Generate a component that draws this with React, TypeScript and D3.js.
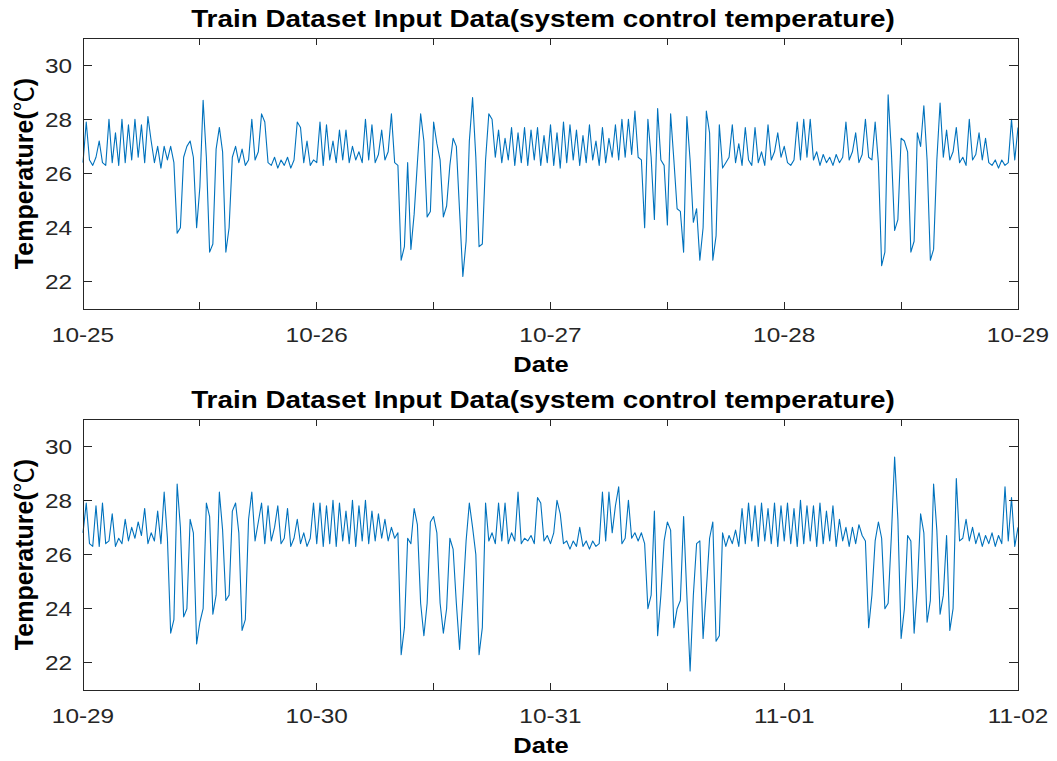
import React from "react";
import * as d3 from "d3";

// ---------- data ----------
const chartTitle = "Train Dataset Input Data(system control temperature)";
const yAxisLabelMain = "Temperature(";
const yAxisUnit = "\u2103";
const yAxisLabelEnd = ")";
const xAxisLabel = "Date";
const yTickValues = [22, 24, 26, 28, 30];
const yDomain = [21, 31];
const sampleMinutes = 20;

const panelStarts = [new Date(2019, 9, 25), new Date(2019, 9, 29)];
const panelEnds = [new Date(2019, 9, 29), new Date(2019, 10, 2)];

// system control temperature, 20-minute samples, 10-25 00:00 -> 10-29 00:00
const tempA = [
  26.4, 27.9, 26.5, 26.3, 26.6, 27.2, 26.4, 26.3, 28.0, 26.4,
  27.5, 26.3, 28.0, 26.4, 27.8, 26.5, 28.0, 26.6, 27.8, 26.4,
  28.1, 27.2, 26.4, 27.0, 26.2, 27.0, 26.5, 27.0, 26.4, 23.8,
  24.0, 26.6, 27.0, 27.2, 26.6, 24.0, 25.5, 28.7, 26.6, 23.1,
  23.4, 26.9, 27.7, 26.8, 23.1, 24.0, 26.6, 27.0, 26.4, 26.9,
  26.3, 26.5, 28.0, 26.5, 26.8, 28.2, 27.9, 26.4, 26.3, 26.6,
  26.2, 26.5, 26.3, 26.6, 26.2, 26.5, 27.9, 27.7, 26.4, 27.2,
  26.3, 26.5, 26.4, 27.9, 26.3, 27.8, 26.5, 27.2, 26.4, 27.6,
  26.5, 27.6, 26.4, 27.0, 26.5, 26.8, 26.4, 28.0, 26.5, 27.8,
  26.4, 26.7, 27.6, 26.5, 26.8, 28.2, 26.4, 26.3, 22.8, 23.3,
  26.4, 23.2, 24.5, 26.4, 28.2, 27.2, 24.4, 24.6, 27.9, 27.1,
  26.5, 24.4, 24.8, 26.3, 27.3, 27.0, 24.6, 22.2, 23.5, 27.2,
  28.8, 26.6, 23.3, 23.4, 26.5, 28.2, 28.0, 26.6, 27.6, 26.4,
  27.3, 26.5, 27.7, 26.3, 27.5, 26.4, 27.7, 26.3, 27.6, 26.5,
  27.7, 26.3, 27.4, 26.4, 27.8, 26.3, 27.5, 26.2, 27.9, 26.4,
  27.8, 26.5, 27.6, 26.3, 27.4, 26.4, 27.8, 26.5, 27.2, 26.3,
  27.7, 26.4, 27.3, 26.6, 27.8, 26.5, 28.0, 26.6, 28.0, 26.7,
  28.3, 26.6, 26.5, 24.0, 28.0, 26.6, 24.3, 28.4, 26.5, 26.3,
  24.1, 28.2, 26.5, 24.7, 24.6, 23.1, 28.1, 26.5, 24.2, 24.7,
  22.8, 24.0, 28.3, 27.5, 22.8, 23.7, 27.8, 26.2, 26.4, 26.6,
  27.8, 26.4, 27.1, 26.3, 27.7, 26.5, 26.3, 27.7, 26.4, 26.8,
  26.3, 27.8, 26.5, 26.8, 27.5, 26.6, 27.0, 26.4, 26.3, 26.5,
  27.9, 26.5, 28.0, 26.6, 28.0, 26.5, 26.8, 26.3, 26.7, 26.4,
  26.6, 26.3, 26.7, 26.4, 26.6, 27.9, 26.5, 26.8, 27.5, 26.4,
  26.7, 28.0, 26.6, 26.5, 27.9, 26.4, 22.6, 23.1, 28.9, 26.8,
  23.9, 24.3, 27.3, 27.2, 26.8, 23.1, 23.5, 27.5, 27.0, 28.5,
  26.5, 22.8, 23.2, 26.5, 28.6, 26.6, 27.6, 26.5, 26.8, 27.7,
  26.4, 26.6, 26.3, 28.0, 26.5, 26.7, 27.5, 26.5, 27.3, 26.4,
  26.3, 26.5, 26.2, 26.5, 26.3, 26.4, 28.0, 26.5, 27.7,
];

// system control temperature, 20-minute samples, 10-29 00:00 -> 11-02 00:00
const tempB = [
  26.8, 27.9, 26.4, 26.3, 27.8, 26.3, 27.9, 26.4, 26.5, 27.5,
  26.3, 26.6, 26.4, 27.3, 26.5, 27.0, 26.6, 27.2, 26.7, 27.7,
  26.4, 26.8, 26.5, 27.6, 26.4, 28.3, 26.6, 23.1, 23.6, 28.6,
  27.0, 23.7, 24.0, 27.3, 26.8, 22.7, 23.5, 24.0, 27.9, 27.4,
  23.8, 24.5, 28.3, 26.9, 24.3, 24.5, 27.6, 27.9, 26.8, 23.2,
  23.6, 27.3, 28.3, 26.5, 27.2, 27.9, 26.4, 27.8, 26.5, 27.0,
  27.8, 26.4, 26.6, 27.7, 26.3, 26.6, 27.3, 26.4, 26.8, 26.3,
  26.6, 27.9, 26.4, 27.9, 26.3, 27.8, 26.4, 28.0, 26.3, 27.9,
  26.5, 27.6, 26.4, 28.0, 26.3, 27.8, 26.5, 28.0, 26.4, 27.6,
  26.5, 27.5, 26.6, 27.3, 26.5, 27.0, 26.6, 26.8, 22.3, 23.3,
  26.6, 26.4, 27.7, 27.1, 24.2, 23.0, 24.2, 27.2, 27.4, 26.8,
  24.2, 23.1, 24.0, 26.6, 26.2, 24.2, 22.5, 24.4, 26.5, 27.9,
  27.0, 26.0, 22.3, 23.3, 27.9, 26.5, 26.8, 26.4, 27.9, 26.5,
  27.9, 26.4, 26.8, 26.5, 28.3, 26.4, 26.6, 26.5, 26.7, 26.4,
  28.1, 27.9, 26.5, 26.7, 26.4, 26.8, 28.0, 27.5, 26.4, 26.5,
  26.2, 26.5, 26.3, 27.0, 26.3, 26.5, 26.2, 26.5, 26.3, 26.4,
  28.3, 26.5, 28.3, 26.8, 27.8, 28.5, 26.4, 26.6, 28.0, 26.6,
  26.8, 26.5, 26.8, 26.4, 24.0, 24.5, 27.6, 23.0, 24.5, 26.5,
  27.2, 26.9, 23.3, 24.0, 24.3, 27.4, 24.5, 21.7, 24.5, 26.4,
  26.5, 22.9, 24.7, 26.6, 27.2, 22.8, 23.0, 26.8, 26.3, 26.7,
  26.4, 26.9, 26.3, 27.7, 26.4, 27.9, 26.5, 27.8, 26.3, 27.9,
  26.5, 27.7, 26.4, 27.9, 26.3, 27.8, 26.5, 27.9, 26.4, 27.7,
  26.3, 28.0, 26.4, 27.8, 26.5, 27.8, 26.3, 27.9, 26.4, 27.6,
  26.5, 27.8, 26.3, 27.3, 26.5, 27.0, 26.3, 27.0, 26.4, 27.1,
  26.7, 26.5, 23.3, 24.5, 26.5, 27.2, 26.6, 24.0, 24.2, 26.7,
  29.6, 27.3, 22.9, 24.0, 26.7, 26.5, 23.1, 24.8, 27.5, 26.8,
  23.5, 24.3, 28.6, 26.9, 23.8, 24.5, 26.7, 23.2, 24.0, 28.8,
  26.5, 26.6, 27.3, 26.5, 27.0, 26.4, 26.8, 26.3, 26.7, 26.4,
  26.8, 26.3, 26.7, 26.4, 28.5, 26.5, 28.1, 26.3, 27.0,
];

const panelSeries = [tempA, tempB];

// ---------- layout / style ----------
const W = 1057;
const H = 761;
const PLOT_LEFT = 83;
const PLOT_RIGHT = 1018;
const PLOT_H = 271;
const PANEL_TOPS = [38, 419];
const AXIS_COLOR = "#262626";
const LINE_COLOR = "#0072BD";
const FONT = "'Liberation Sans', Arial, Helvetica, sans-serif";
const CJK_FONT = "'Noto Sans CJK SC', 'Noto Sans', sans-serif";
const SX = 1.16; // horizontal stretch of the original raster

function SText({ x, y, size, bold, anchor, children, fill }: any) {
  return (
    <text
      transform={`translate(${x},${y}) scale(${SX},1)`}
      fontSize={size}
      fontWeight={bold ? "bold" : "normal"}
      textAnchor={anchor || "middle"}
      fill={fill || AXIS_COLOR}
      fontFamily={FONT}
    >
      {children}
    </text>
  );
}

function Panel({ top, start, end, values }: any) {
  const bottom = top + PLOT_H;
  const x = d3.scaleTime().domain([start, end]).range([PLOT_LEFT, PLOT_RIGHT]);
  const y = d3.scaleLinear().domain(yDomain).range([bottom, top]);
  const times = values.map(
    (_: number, i: number) => new Date(start.getTime() + i * sampleMinutes * 60000)
  );
  const line = d3
    .line<number>()
    .x((_, i) => x(times[i]))
    .y((d) => y(d));
  const halfDayTicks = d3.timeHour.every(12)!.range(start, new Date(end.getTime() + 1));
  const dayTicks = d3.timeDay.every(1)!.range(start, new Date(end.getTime() + 1));
  const fmt = d3.timeFormat("%m-%d");
  const midY = (top + bottom) / 2;

  return (
    <g>
      <path
        d={line(values) || ""}
        fill="none"
        stroke={LINE_COLOR}
        strokeWidth={1.1}
        strokeLinejoin="round"
      />
      <rect
        x={PLOT_LEFT}
        y={top}
        width={PLOT_RIGHT - PLOT_LEFT}
        height={PLOT_H}
        fill="none"
        stroke={AXIS_COLOR}
        strokeWidth={1}
        shapeRendering="crispEdges"
      />
      {halfDayTicks.map((t: Date, i: number) => (
        <g key={"xt" + i} stroke={AXIS_COLOR} shapeRendering="crispEdges">
          <line x1={x(t)} x2={x(t)} y1={bottom} y2={bottom - 7} />
          <line x1={x(t)} x2={x(t)} y1={top} y2={top + 7} />
        </g>
      ))}
      {dayTicks.map((t: Date, i: number) => (
        <SText key={"xl" + i} x={x(t)} y={bottom + 33} size={21}>
          {fmt(t)}
        </SText>
      ))}
      {yTickValues.map((v) => (
        <g key={"yt" + v}>
          <g stroke={AXIS_COLOR} shapeRendering="crispEdges">
            <line x1={PLOT_LEFT} x2={PLOT_LEFT + 9} y1={y(v)} y2={y(v)} />
            <line x1={PLOT_RIGHT} x2={PLOT_RIGHT - 9} y1={y(v)} y2={y(v)} />
          </g>
          <SText x={72} y={y(v) + 7.5} size={21} anchor="end">
            {v}
          </SText>
        </g>
      ))}
      <SText x={543} y={top - 11} size={24} bold fill="#000">
        {chartTitle}
      </SText>
      <SText x={541} y={bottom + 63} size={22} bold fill="#000">
        {xAxisLabel}
      </SText>
      <text
        transform={`translate(33,${midY}) rotate(-90)`}
        fontSize={25}
        fontWeight="bold"
        textAnchor="middle"
        fill="#000"
        fontFamily={FONT}
      >
        {yAxisLabelMain}
        <tspan fontFamily={CJK_FONT} fontWeight="normal">
          {yAxisUnit}
        </tspan>
        {yAxisLabelEnd}
      </text>
    </g>
  );
}

export default function App() {
  return (
    <svg
      width={W}
      height={H}
      viewBox={`0 0 ${W} ${H}`}
      style={{ position: "absolute", left: 0, top: 0, display: "block", background: "#fff" }}
    >
      <rect x={0} y={0} width={W} height={H} fill="#fff" />
      {panelSeries.map((vals, k) => (
        <Panel
          key={k}
          top={PANEL_TOPS[k]}
          start={panelStarts[k]}
          end={panelEnds[k]}
          values={vals}
        />
      ))}
    </svg>
  );
}
